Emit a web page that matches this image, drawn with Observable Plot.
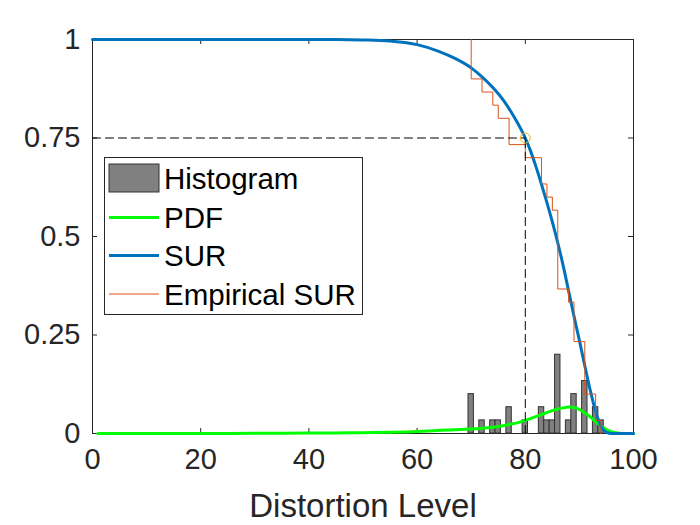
<!DOCTYPE html>
<html><head><meta charset="utf-8">
<script src="https://cdn.jsdelivr.net/npm/d3@7"></script>
<script src="https://cdn.jsdelivr.net/npm/@observablehq/plot@0.6"></script>
<style>
body{margin:0;background:#fff;}
#wrap{position:relative;width:700px;height:525px;font-family:"Liberation Sans",Arial,Helvetica,sans-serif;}
#legend{position:absolute;left:104px;top:157px;}
</style></head><body><div id="wrap"></div>
<script>
const xTicks = [0, 20, 40, 60, 80, 100];
const yTicks = [0, 0.25, 0.5, 0.75, 1];
const yTickLabels = ["0", "0.25", "0.5", "0.75", "1"];
const xLabel = "Distortion Level";

const histCenters = [70, 72, 74, 75, 77, 80, 83, 84, 85, 86, 88, 89, 91, 93, 94];
const histHeights = [0.1, 0.0333, 0.0333, 0.0333, 0.0667, 0.0333, 0.0667, 0.0333, 0.0333, 0.2, 0.0333, 0.1, 0.1333, 0.0667, 0.0333];

const pdfX = [1, 10, 20, 30, 40, 45, 50, 55, 60, 63, 66, 69, 72, 75, 77, 79, 81, 83, 85, 86, 87, 88, 89, 90, 91, 92, 93, 94, 95, 96, 97, 98, 100];
const pdfY = [0, 0, 0, 0.0005, 0.001, 0.0015, 0.002, 0.003, 0.005, 0.007, 0.009, 0.011, 0.0135, 0.018, 0.023, 0.029, 0.038, 0.048, 0.058, 0.062, 0.065, 0.067, 0.066, 0.061, 0.052, 0.042, 0.030, 0.019, 0.010, 0.004, 0.001, 0, 0];

const surX = [0, 30, 45, 50, 55, 60, 64, 67, 70, 72, 74, 76, 78, 80, 81, 82, 83, 84, 85, 86, 87, 88, 89, 90, 91, 92, 93, 94, 95, 96, 100];
const surY = [1, 1, 1, 0.999, 0.996, 0.987, 0.970, 0.952, 0.928, 0.905, 0.878, 0.845, 0.802, 0.750, 0.716, 0.676, 0.632, 0.586, 0.537, 0.484, 0.426, 0.362, 0.298, 0.236, 0.172, 0.110, 0.056, 0.018, 0.003, 0, 0];

const empX = [70, 70, 72, 74, 75, 77, 80, 83, 84, 85, 86, 88, 89, 91, 93, 94];
const empY = [1, 0.9, 0.8667, 0.8333, 0.8, 0.7333, 0.7, 0.6333, 0.6, 0.5667, 0.3667, 0.3333, 0.2333, 0.1, 0.0333, 0];

const thresholdX = 80;
const thresholdY = 0.75;

const legendLabels = ["Histogram", "PDF", "SUR", "Empirical SUR"];

const colors = {hist: "#808080", pdf: "#00FF00", sur: "#0072BD", emp: "#D95319", mark: "#EDB120", ink: "#262626"};

const hist = histCenters.map((c, i) => ({c, h: histHeights[i]}));
const pdf = pdfX.map((x, i) => ({x, y: pdfY[i]}));
const sur = surX.map((x, i) => ({x, y: surY[i]}));
const emp = empX.map((x, i) => ({x, y: empY[i]}));

const W = 700, H = 525, mL = 92, mR = 67, mT = 39, mB = 92;
const innerW = W - mL - mR, innerH = H - mT - mB;
const tk = 5;
const font = '"Liberation Sans", Arial, Helvetica, sans-serif';

const chart = Plot.plot({
  width: W, height: H,
  marginLeft: mL, marginRight: mR, marginTop: mT, marginBottom: mB,
  x: {domain: [0, 100]},
  y: {domain: [0, 1]},
  style: {fontFamily: font, color: colors.ink, background: "white"},
  marks: [
    Plot.frame({stroke: colors.ink, strokeWidth: 1}),
    Plot.tickX(xTicks, {x: d => d, insetTop: innerH - tk, stroke: colors.ink}),
    Plot.tickX(xTicks, {x: d => d, insetBottom: innerH - tk, stroke: colors.ink}),
    Plot.tickY(yTicks, {y: d => d, insetRight: innerW - tk, stroke: colors.ink}),
    Plot.tickY(yTicks, {y: d => d, insetLeft: innerW - tk, stroke: colors.ink}),
    Plot.axisX({ticks: xTicks, tickSize: 0, tickPadding: 15, fontSize: 29, label: null, fill: colors.ink}),
    Plot.axisY({ticks: yTicks, tickSize: 0, tickPadding: 12, fontSize: 29, label: null, fill: colors.ink,
      tickFormat: d => yTickLabels[yTicks.indexOf(d)]}),
    Plot.axisX({ticks: [], label: xLabel, labelAnchor: "center", labelArrow: "none", labelOffset: 83, fontSize: 33, fill: colors.ink}),
    Plot.rect(hist, {x1: d => d.c - 0.5, x2: d => d.c + 0.5, y1: 0, y2: "h", fill: colors.hist, stroke: "#333", strokeWidth: 1}),
    Plot.line(pdf, {x: "x", y: "y", stroke: colors.pdf, strokeWidth: 3, curve: "monotone-x"}),
    Plot.line(sur, {x: "x", y: "y", stroke: colors.sur, strokeWidth: 3, curve: "monotone-x"}),
    Plot.line(emp, {x: "x", y: "y", stroke: colors.emp, strokeWidth: 1, curve: "step-after"}),
    Plot.line([[0, thresholdY], [thresholdX, thresholdY]], {stroke: "#000", strokeWidth: 1, strokeDasharray: "8,5"}),
    Plot.line([[thresholdX, 0], [thresholdX, thresholdY]], {stroke: "#000", strokeWidth: 1, strokeDasharray: "8,5"}),
    Plot.dot([[thresholdX, thresholdY]], {r: 5, stroke: colors.mark, fill: "none", strokeWidth: 1})
  ]
});
const wrap = document.getElementById("wrap");
wrap.appendChild(chart);

// Legend (inside the axes, top-left area)
const lw = 259, lh = 158;
const leg = d3.create("svg").attr("id", "legend").attr("width", lw).attr("height", lh)
  .style("font-family", font);
leg.append("rect").attr("x", 0.5).attr("y", 0.5).attr("width", lw - 1).attr("height", lh - 1)
  .attr("fill", "white").attr("stroke", colors.ink);
const rowsY = [21, 60.5, 98.5, 137];
leg.append("rect").attr("x", 5).attr("y", rowsY[0] - 14).attr("width", 50).attr("height", 28)
  .attr("fill", colors.hist).attr("stroke", "#333");
leg.append("line").attr("x1", 5).attr("x2", 55).attr("y1", rowsY[1]).attr("y2", rowsY[1]).attr("stroke", colors.pdf).attr("stroke-width", 3);
leg.append("line").attr("x1", 5).attr("x2", 55).attr("y1", rowsY[2]).attr("y2", rowsY[2]).attr("stroke", colors.sur).attr("stroke-width", 3);
leg.append("line").attr("x1", 5).attr("x2", 55).attr("y1", rowsY[3]).attr("y2", rowsY[3]).attr("stroke", colors.emp).attr("stroke-width", 1);
legendLabels.forEach((t, i) => {
  leg.append("text").attr("x", 60).attr("y", rowsY[i] + 10.5).attr("font-size", 29.5).attr("fill", "#000").text(t);
});
wrap.appendChild(leg.node());
</script>
</body></html>
